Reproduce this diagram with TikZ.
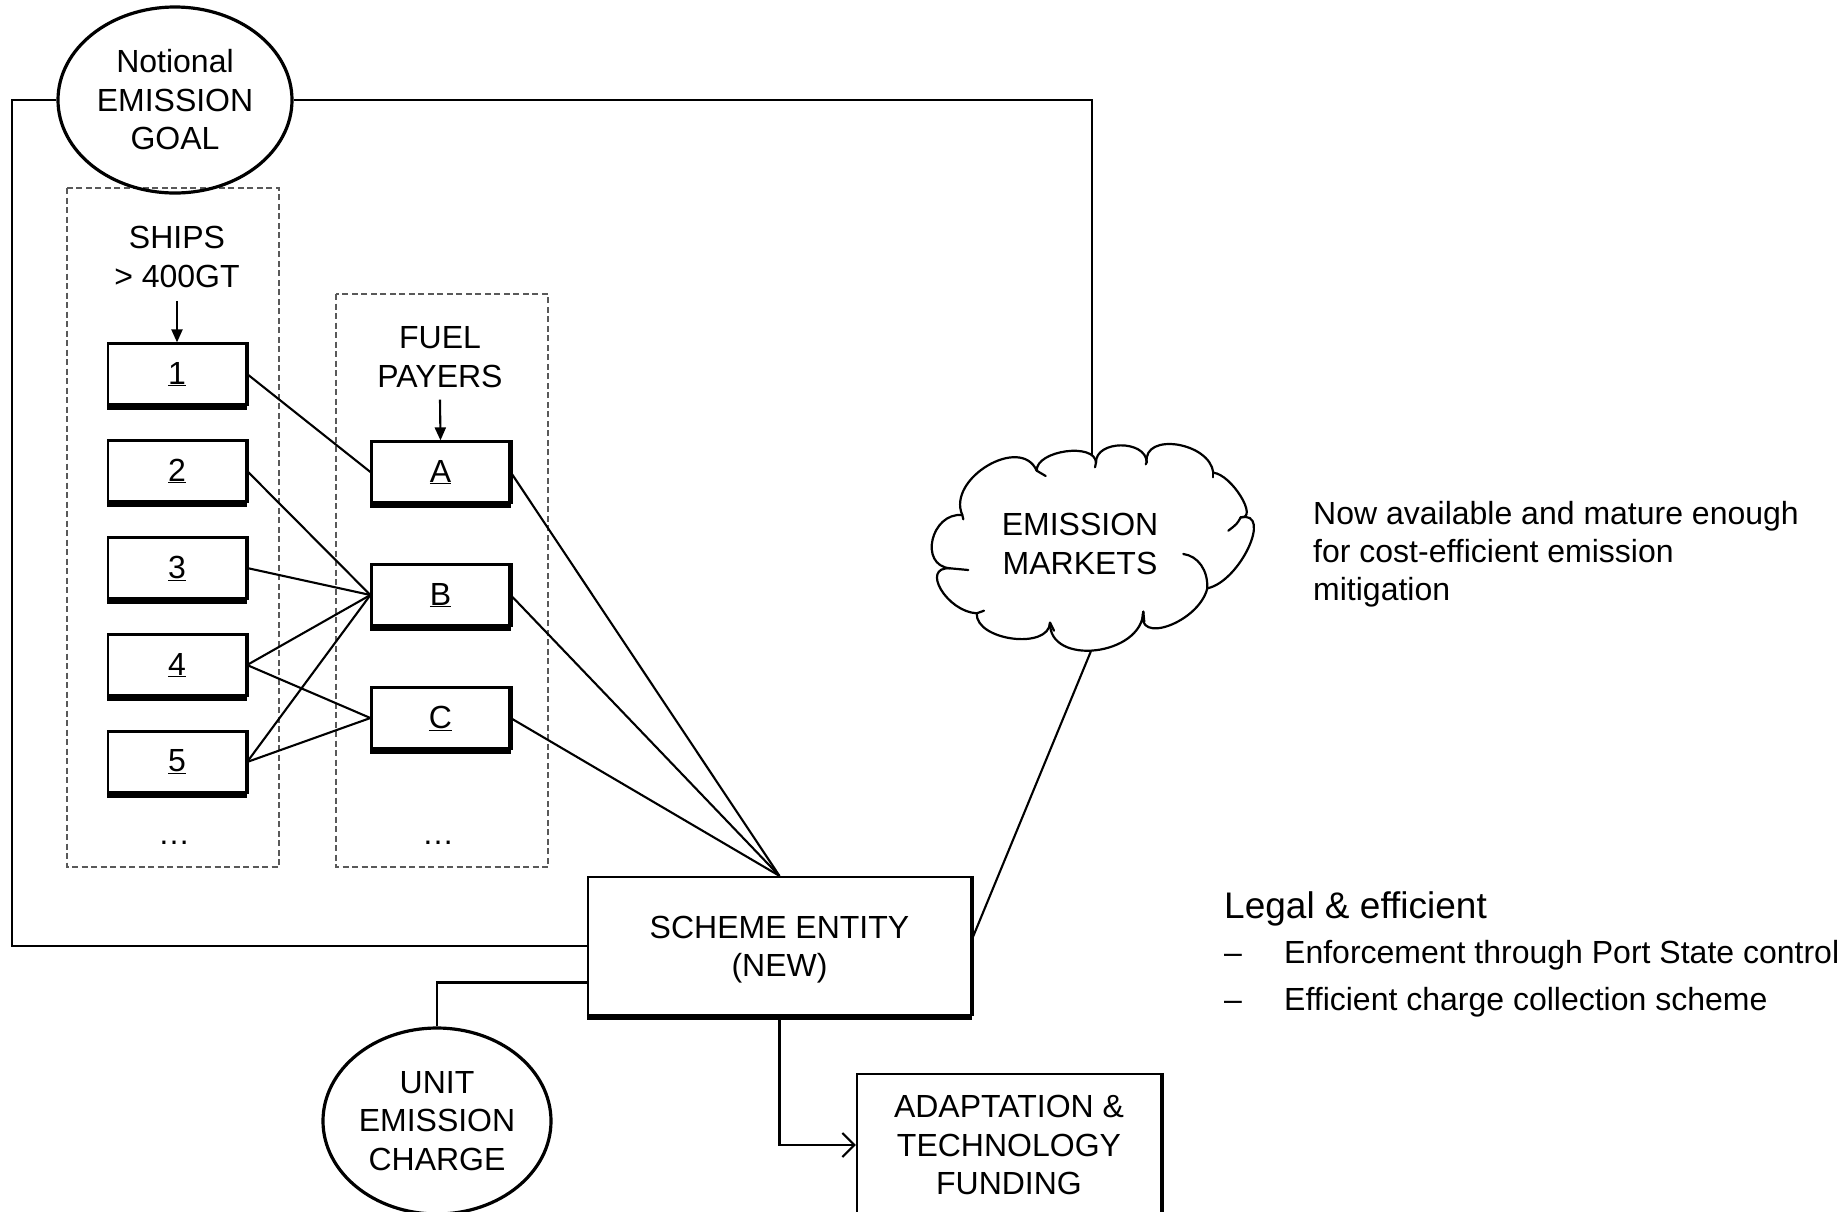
\documentclass[tikz,border=0pt]{standalone}
\usepackage{fontspec}
\setmainfont{Liberation Sans}
\usetikzlibrary{arrows.meta,calc,shapes.geometric}

% one bump of the cloud outline: from #1 over the crest #2 to #3
\newcommand\cloudbump[3]{\draw[cloudline] (#1) .. controls ($0.333*(#1)+1.333*(#2)-0.667*(#3)$) and ($0.333*(#3)+1.333*(#2)-0.667*(#1)$) .. (#3);}

\begin{document}
\begin{tikzpicture}[x=1pt,y=-1pt,
  basefont/.style={font=\fontsize{32}{38.5}\selectfont},
  lbl/.style={basefont, align=center, inner sep=0pt},
  conn/.style={line width=2.1pt},
  arrowdown/.style={line width=2.1pt, -{Triangle[length=13pt,width=11pt]}},
  rbox/.style={draw, line width=2.2pt, rectangle, inner sep=0pt, basefont, align=center,
    append after command={
      ([yshift=-1.5pt]\tikzlastnode.south west) edge[line width=4.8pt] ([yshift=-1.5pt]\tikzlastnode.south east)
      ([xshift=0.6pt]\tikzlastnode.north east) edge[line width=3.2pt] ([xshift=0.6pt]\tikzlastnode.south east)}},
  shipbox/.style={rbox, minimum width=138pt, minimum height=61pt},
  roundlabel/.style={draw, ellipse, line width=3.2pt, inner sep=0pt,
    minimum width=234pt, minimum height=186pt, basefont, align=center},
  groupframe/.style={draw=black!65, line width=1.7pt, dash pattern=on 6pt off 3.5pt},
  cloudline/.style={line width=2.2pt, line cap=round},
]
\fill[white] (0,0) rectangle (1845,1211);
\useasboundingbox (0,0) rectangle (1845,1211);

% dashed group frames
\draw[groupframe] (67,188) rectangle (279,867);
\draw[groupframe] (336,294) rectangle (548,867);

% goal and charge
\node[roundlabel] (goal) at (175,100) {Notional\\EMISSION\\GOAL};
\node[roundlabel, minimum width=228pt] (unit) at (437,1121) {UNIT\\EMISSION\\CHARGE};

% ships column
\node[lbl] (shipslbl) at (177,257) {SHIPS\\> 400GT};
\node[shipbox] (s1) at (177,374) {\underline{1}};
\node[shipbox] (s2) at (177,471) {\underline{2}};
\node[shipbox] (s3) at (177,568) {\underline{3}};
\node[shipbox] (s4) at (177,665) {\underline{4}};
\node[shipbox] (s5) at (177,762) {\underline{5}};
\node[basefont, anchor=base, inner sep=0pt] (sdots) at (174,844) {…};

% fuel payers column
\node[lbl] (fuellbl) at (440,357) {FUEL\\PAYERS};
\node[shipbox] (fa) at (440.5,472) {\underline{A}};
\node[shipbox] (fb) at (440.5,595) {\underline{B}};
\node[shipbox] (fc) at (440.5,718) {\underline{C}};
\node[basefont, anchor=base, inner sep=0pt] (fdots) at (438,844) {…};

\draw[arrowdown] ([yshift=-13pt]shipslbl.south) -- (s1.north);
\draw[arrowdown] ([yshift=-12pt]fuellbl.south) -- (fa.north);

% scheme entity and funding
\node[rbox, minimum width=383pt, minimum height=138pt] (se) at (779.5,946) {\rule{0pt}{0.93em}SCHEME ENTITY\\(NEW)};
\node[rbox, minimum width=304pt, minimum height=142pt] (fund) at (1009,1145) {ADAPTATION \&\\TECHNOLOGY\\FUNDING};

% emission markets cloud
\coordinate (J1) at (1036.7,470.7);  \coordinate (P1) at (1066.7,451.7);
\coordinate (J2) at (1096,462.7);    \coordinate (P2) at (1121.7,445.7);
\coordinate (J3) at (1146.7,462.3);  \coordinate (P3) at (1178.3,445);
\coordinate (J4) at (1213.3,472.7);  \coordinate (P4) at (1241.7,496.7);
\coordinate (J5) at (1240.7,517.3);  \coordinate (P5) at (1249.3,548.3);
\coordinate (J6) at (1207.3,588.3);  \coordinate (P6) at (1170,626);
\coordinate (J7) at (1143.3,611.7);  \coordinate (P7) at (1096.7,650.7);
\coordinate (J8) at (1050,622.7);    \coordinate (P8) at (1013.3,639);
\coordinate (J9) at (976.7,613.3);   \coordinate (P9) at (941.7,590);
\coordinate (J10) at (950,568.3);    \coordinate (P10) at (933.3,540);
\coordinate (J11) at (962.3,515);    \coordinate (P11) at (988.3,466);
\cloudbump{J1}{P1}{J2}
\cloudbump{J2}{P2}{J3}
\cloudbump{J3}{P3}{J4}
\cloudbump{J4}{P4}{J5}
\cloudbump{J5}{P5}{J6}
\cloudbump{J6}{P6}{J7}
\cloudbump{J7}{P7}{J8}
\cloudbump{J8}{P8}{J9}
\cloudbump{J9}{P9}{J10}
\cloudbump{J10}{P10}{J11}
\cloudbump{J11}{P11}{J1}
% inner curls of the cloud
\draw[cloudline] (J1) -- (1045.7,476);
\draw[cloudline] (J2) -- (1095,467.3);
\draw[cloudline] (J3) -- (1145.7,464.3);
\draw[cloudline] (J4) -- (1213.3,477.3);
\draw[cloudline] (J5) .. controls (1237,524) .. (1228.3,530.7);
\draw[cloudline] (1183.3,554) .. controls (1198,556) and (1208,570) .. (J6);
\draw[cloudline] (J7) -- (1144.3,621.7);
\draw[cloudline] (J8) -- (1054,630.7);
\draw[cloudline] (J9) -- (984,610.7);
\draw[cloudline] (J10) -- (968.3,570);
\draw[cloudline] (J11) -- (963.3,519.3);
\node[lbl] (mk) at (1080,544) {EMISSION\\MARKETS};
\coordinate (mktop) at (1092,455);
\coordinate (mkbot) at (1091,651);

% connectors
\draw[conn] (goal.west) -- ++(-44,0) |- (se.west);
\draw[conn] (goal.east) -| (mktop);
\draw[conn] (unit.north) |- ($(se.north west)!0.76!(se.south west)$);
\draw[conn] (mkbot) -- ($(se.north east)!0.45!(se.south east)$);
\draw[conn] (s1.east) -- (fa.west);
\draw[conn] (s2.east) -- (fb.west);
\draw[conn] (s3.east) -- (fb.west);
\draw[conn] (s4.east) -- (fb.west);
\draw[conn] (s4.east) -- (fc.west);
\draw[conn] (s5.east) -- (fb.west);
\draw[conn] (s5.east) -- (fc.west);
\draw[conn] (fa.east) -- (se.north);
\draw[conn] (fb.east) -- (se.north);
\draw[conn] (fc.east) -- (se.north);
\draw[conn, -{Straight Barb[length=12pt,width=24pt]}] (se.south) |- (fund.west);

% side notes
\node[basefont, anchor=base west, inner sep=0pt] (n1) at (1313,524.5) {Now available and mature enough};
\node[basefont, anchor=base west, inner sep=0pt] (n2) at (1313,562) {for cost-efficient emission};
\node[basefont, anchor=base west, inner sep=0pt] (n3) at (1313,600) {mitigation};

\node[font=\fontsize{37}{44}\selectfont, anchor=base west, inner sep=0pt] (legal) at (1224,918) {Legal \& efficient};
\node[basefont, anchor=base west, inner sep=0pt] (d1) at (1224,963.5) {–};
\node[basefont, anchor=base west, inner sep=0pt] (b1) at (1284,963.5) {Enforcement through Port State control};
\node[basefont, anchor=base west, inner sep=0pt] (d2) at (1224,1010.5) {–};
\node[basefont, anchor=base west, inner sep=0pt] (b2) at (1284,1010.5) {Efficient charge collection scheme};
\end{tikzpicture}
\end{document}
